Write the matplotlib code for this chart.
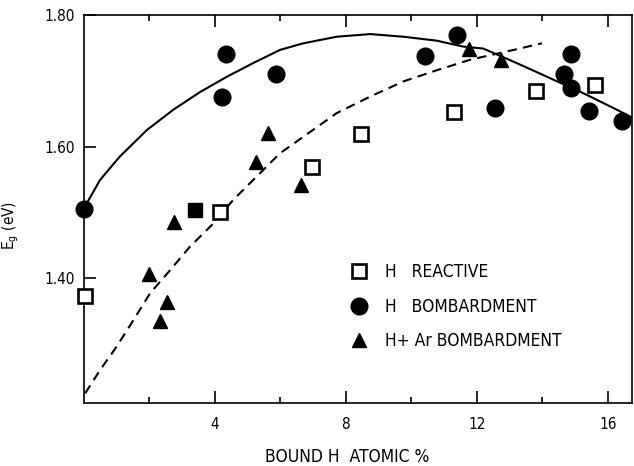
import matplotlib
matplotlib.use("Agg")
import matplotlib.pyplot as plt
from matplotlib.ticker import FixedLocator

plt.rcParams['font.family'] = ['DejaVu Sans']
plt.rcParams['font.stretch'] = 'condensed'
plt.rcParams['mathtext.fontset'] = 'custom'
plt.rcParams['mathtext.rm'] = 'DejaVu Sans:stretch=condensed'

# ---- data ----
reactive_x = [0.05, 4.17, 6.97, 8.47, 11.30, 13.82, 15.60]
reactive_y = [1.373, 1.501, 1.569, 1.619, 1.652, 1.684, 1.693]

reactive_filled_x = [3.40]
reactive_filled_y = [1.504]

bomb_x = [0.0, 4.35, 4.22, 5.88, 10.43, 11.40, 12.55, 14.88, 14.66, 14.88, 15.42, 16.42]
bomb_y = [1.505, 1.740, 1.675, 1.711, 1.737, 1.770, 1.659, 1.741, 1.710, 1.689, 1.654, 1.639]

ar_x = [5.62, 5.26, 6.64, 2.76, 2.01, 2.54, 2.34, 11.76, 12.75]
ar_y = [1.620, 1.576, 1.541, 1.485, 1.406, 1.364, 1.335, 1.749, 1.732]

solid_x = [0.0, 0.50, 1.11, 1.93, 2.74, 3.56, 4.37, 5.18, 6.00, 6.71, 7.73, 8.75,
           9.76, 10.78, 11.59, 12.20, 13.22, 14.24, 15.26, 16.28, 16.78]
solid_y = [1.505, 1.549, 1.585, 1.625, 1.656, 1.683, 1.706, 1.727, 1.747, 1.757, 1.767, 1.771,
           1.767, 1.761, 1.752, 1.749, 1.727, 1.704, 1.681, 1.656, 1.643]

dash_x = [0.05, 0.50, 1.01, 1.52, 2.03, 2.64, 3.25, 3.96, 4.57, 6.00, 6.71, 7.73,
          8.75, 9.76, 10.78, 11.80, 13.22, 13.99]
dash_y = [1.225, 1.260, 1.296, 1.336, 1.377, 1.412, 1.448, 1.483, 1.519, 1.590, 1.615, 1.651,
          1.676, 1.699, 1.716, 1.732, 1.748, 1.757]

x_major = [4, 8, 12, 16]
x_minor = [2, 6, 10, 14]
y_major = [1.40, 1.60, 1.80]
y_labels = ["1.40", "1.60", "1.80"]

labels = ["H   REACTIVE", "H   BOMBARDMENT", "H+ Ar BOMBARDMENT"]

# ---- figure ----
fig = plt.figure(figsize=(6.34, 4.66), dpi=100)
ax = fig.add_axes([83.5 / 634, 1 - 402.7 / 466, (632 - 83.5) / 634, (402.7 - 15) / 466])

ax.plot(solid_x, solid_y, color='black', lw=1.5, zorder=2)
ax.plot(dash_x, dash_y, color='black', lw=1.5, dashes=[4.5, 3.0], zorder=2)

h1, = ax.plot(reactive_x, reactive_y, ls='none', marker='s', ms=9.5, mfc='white',
              mec='black', mew=1.9, zorder=3, clip_on=False)
ax.plot(reactive_filled_x, reactive_filled_y, ls='none', marker='s', ms=10.5, mfc='black',
        mec='black', mew=1.0, zorder=3)
h2, = ax.plot(bomb_x, bomb_y, ls='none', marker='o', ms=12, mfc='black', mec='black',
              zorder=3, clip_on=False)
h3, = ax.plot(ar_x, ar_y, ls='none', marker='^', ms=10, mfc='black', mec='black',
              zorder=3, clip_on=False)

ax.set_xlim(0, 16.74)
ax.set_ylim(1.2108, 1.80)

ax.xaxis.set_major_locator(FixedLocator(x_major))
ax.xaxis.set_minor_locator(FixedLocator(x_minor))
ax.set_xticklabels([str(v) for v in x_major])
ax.yaxis.set_major_locator(FixedLocator(y_major))
ax.set_yticklabels(y_labels)

for sp in ax.spines.values():
    sp.set_linewidth(1.2)

ax.tick_params(axis='both', which='major', direction='in', length=8.6, width=1.2,
               labelsize=11, top=True, right=False)
ax.tick_params(axis='both', which='minor', direction='in', length=4.3, width=1.2,
               top=True, right=False)
ax.tick_params(axis='x', which='major', pad=10)
ax.tick_params(axis='y', which='major', pad=6)

ax.set_xlabel("BOUND H  ATOMIC %", fontsize=12.5)
ax.xaxis.set_label_coords(0.481, -0.117)
ax.set_ylabel("E$_\\mathregular{g}$ (eV)", fontsize=11)
ax.yaxis.set_label_coords(-0.114, 0.458)

leg = ax.legend([h1, h2, h3], labels, loc='upper left', bbox_to_anchor=(0.47, 0.382),
                frameon=False, fontsize=12.5, handlelength=1.0, handletextpad=1.0,
                labelspacing=0.95, borderpad=0, numpoints=1)

fig.savefig("out.png", dpi=100)
